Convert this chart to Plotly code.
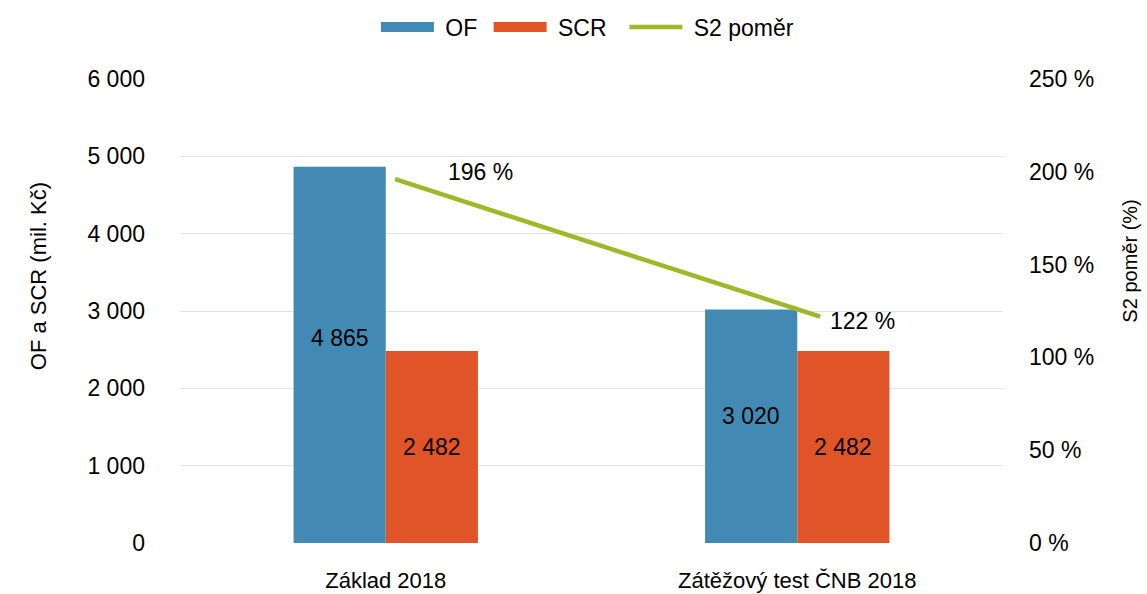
import plotly.graph_objects as go

# ---- data ----
categories = ["Základ 2018", "Zátěžový test ČNB 2018"]
of_values = [4865, 3020]
scr_values = [2482, 2482]
s2_ratio = [196, 122]

y_ticks = [0, 1000, 2000, 3000, 4000, 5000, 6000]
y2_ticks = [0, 50, 100, 150, 200, 250]

# ---- style ----
BLUE = "#428AB4"
ORANGE = "#E05427"
GREEN = "#9DB92A"
GRID = "#E3E3E3"
FONT = "Liberation Sans, Arial, sans-serif"
FS_TICK = 23
FS_X = 22
FS_LAB = 23
FS_LEG = 23
OF_LABEL_FRAC = 0.545
SCR_LABEL_FRAC = 0.5
NB = "\u00a0"


def fmt(v):
    return f"{v:,}".replace(",", " ")


fig = go.Figure()

fig.add_trace(go.Bar(x=categories, y=of_values, name="OF", marker=dict(color=BLUE, line=dict(width=0)),
                     showlegend=False, xaxis="x", yaxis="y"))
fig.add_trace(go.Bar(x=categories, y=scr_values, name="SCR", marker=dict(color=ORANGE, line=dict(width=0)),
                     showlegend=False, xaxis="x", yaxis="y"))
fig.add_trace(go.Scatter(x=categories, y=s2_ratio, name="S2 poměr", mode="lines",
                         line=dict(color=GREEN, width=4.5), showlegend=False,
                         xaxis="x2", yaxis="y2"))

# legend entries (wide swatches like the original)
fig.add_trace(go.Scatter(x=[None], y=[None], mode="lines", name=NB + "OF" + NB,
                         line=dict(color=BLUE, width=13), xaxis="x2", yaxis="y2"))
fig.add_trace(go.Scatter(x=[None], y=[None], mode="lines", name=NB + "SCR" + NB * 2,
                         line=dict(color=ORANGE, width=13), xaxis="x2", yaxis="y2"))
fig.add_trace(go.Scatter(x=[None], y=[None], mode="lines", name=NB + "S2 poměr",
                         line=dict(color=GREEN, width=4.5), xaxis="x2", yaxis="y2"))

annotations = []
for c, v in zip(categories, of_values):
    annotations.append(dict(x=c, y=v * OF_LABEL_FRAC, xref="x", yref="y", text=fmt(v),
                            showarrow=False, xshift=-46, font=dict(size=FS_LAB, color="#000")))
for c, v in zip(categories, scr_values):
    annotations.append(dict(x=c, y=v * SCR_LABEL_FRAC, xref="x", yref="y", text=fmt(v),
                            showarrow=False, xshift=46, font=dict(size=FS_LAB, color="#000")))
ratio_shifts = [(51, 7), (8, -4)]
for c, v, (dx, dy) in zip(categories, s2_ratio, ratio_shifts):
    annotations.append(dict(x=c, y=v, xref="x2", yref="y2", text=f"{v} %",
                            showarrow=False, xanchor="left", xshift=dx, yshift=dy,
                            font=dict(size=FS_LAB, color="#000")))

annotations.append(dict(x=-0.1725, y=0.575, xref="paper", yref="paper", text="OF a SCR (mil. Kč)",
                        textangle=-90, showarrow=False, xanchor="center", yanchor="middle",
                        font=dict(size=22, color="#000")))
annotations.append(dict(x=1.154, y=0.608, xref="paper", yref="paper", text="S2 poměr (%)",
                        textangle=-90, showarrow=False, xanchor="center", yanchor="middle",
                        font=dict(size=20, color="#000")))

fig.update_layout(
    width=1147, height=594,
    margin=dict(l=180, r=144, t=79, b=51, autoexpand=False),
    paper_bgcolor="white", plot_bgcolor="white",
    font=dict(family=FONT, size=FS_TICK, color="#000"),
    separators=", ",
    barmode="group", bargap=0.552, bargroupgap=0,
    xaxis=dict(type="category", range=[-0.5, 1.5], showgrid=False, showline=False,
               ticks="", ticklabelstandoff=22, tickfont=dict(size=FS_X), automargin=False),
    xaxis2=dict(type="category", overlaying="x", range=[-0.506, 1.430], visible=False,
                categoryorder="array", categoryarray=categories),
    yaxis=dict(range=[0, 6000], tickvals=y_ticks, tickformat=",d", showgrid=True,
               gridcolor=GRID, gridwidth=1, zeroline=False, showline=False, ticks="",
               ticklabelstandoff=34, automargin=False, tickfont=dict(size=FS_TICK)),
    yaxis2=dict(range=[0, 250], tickvals=y2_ticks, ticktext=[f"{t} %" for t in y2_ticks],
                overlaying="y", side="right", showgrid=False, zeroline=False, showline=False,
                ticks="", ticklabelstandoff=25, automargin=False, tickfont=dict(size=FS_TICK)),
    legend=dict(orientation="h", x=0.495, xanchor="center", xref="paper",
                y=1 - 27 / 594, yanchor="middle", yref="container",
                itemwidth=53, font=dict(size=FS_LEG), bgcolor="rgba(0,0,0,0)"),
    annotations=annotations,
)

fig.write_html("out.html", config={"displayModeBar": False},
               post_script="document.body.style.margin='0px';")
